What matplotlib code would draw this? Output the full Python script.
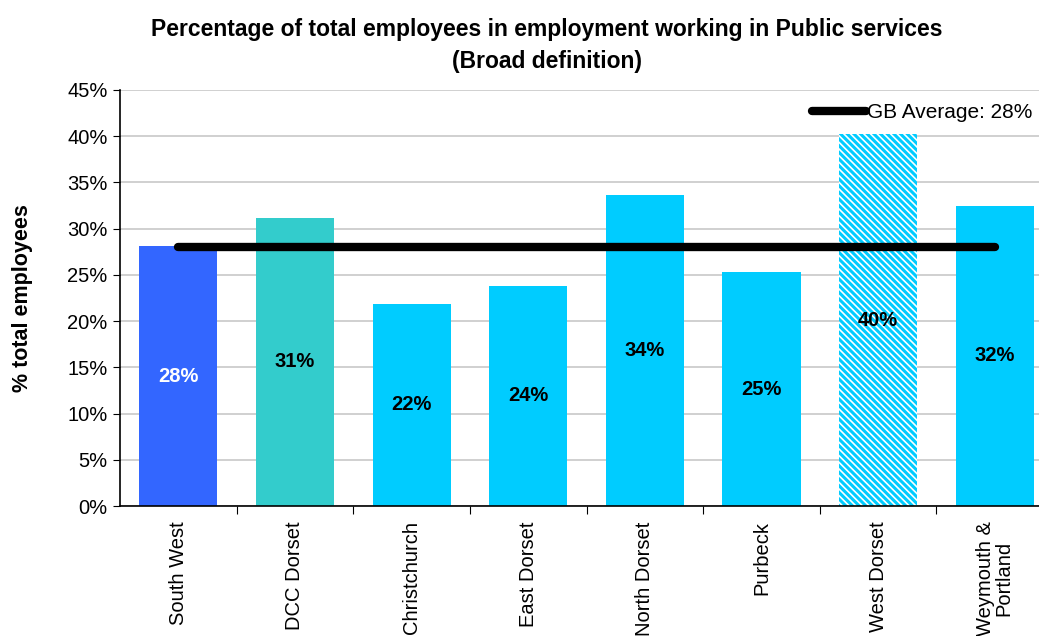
import numpy as np
import matplotlib.pyplot as plt
from matplotlib.lines import Line2D

plt.rcParams['font.family'] = ['Liberation Sans', 'DejaVu Sans']
plt.rcParams['hatch.linewidth'] = 2.2

areas = ['South West', 'DCC Dorset', 'Christchurch', 'East Dorset',
         'North Dorset', 'Purbeck', 'West Dorset', 'Weymouth &\nPortland']
share = [28.1, 31.2, 21.9, 23.8, 33.6, 25.3, 40.2, 32.5]
gb_average = 28.0

colours = ['#3366FF', '#33CCCC', '#00CCFF', '#00CCFF',
           '#00CCFF', '#00CCFF', '#00CCFF', '#00CCFF']

fig = plt.figure(figsize = (10.39, 6.36), dpi = 100)
ax = fig.add_axes([0.1155, 0.2044, 0.898, 0.6541])

x = np.arange(len(areas))
bars = ax.bar(x, share, width = 0.67, color = colours, zorder = 2)

# West Dorset drawn as a striped bar
wd = bars[6]
wd.set_facecolor('white')
wd.set_edgecolor('#00CCFF')
wd.set_hatch('\\\\\\\\\\')
wd.set_linewidth(0)

for i, (b, v) in enumerate(zip(bars, share)):
    ax.text(b.get_x() + b.get_width() / 2, v / 2, '{:.0f}%'.format(v),
            ha = 'center', va = 'center', fontsize = 14.5, fontweight = 'bold',
            color = 'white' if i == 0 else 'black', zorder = 4)

ax.plot([x[0], x[-1]], [gb_average, gb_average], color = 'black', lw = 6,
        solid_capstyle = 'round', zorder = 3)

handle = Line2D([], [], color = 'black', lw = 6, solid_capstyle = 'round')
ax.legend([handle], ['GB Average: {:.0f}%'.format(gb_average)],
          loc = 'center left', bbox_to_anchor = (812 / 1039, 1 - 113 / 636),
          bbox_transform = fig.transFigure, frameon = False, fontsize = 15,
          handlelength = 2.6, handletextpad = 0.05, borderpad = 0,
          borderaxespad = 0)

ax.set_xlim(-0.5, len(areas) - 0.5)
ax.set_ylim(0, 45)
ax.set_yticks(np.arange(0, 46, 5))
ax.set_yticklabels(['{}%'.format(t) for t in range(0, 46, 5)], fontsize = 14.5)
ax.yaxis.grid(True, color = '#C8C8C8', lw = 1.2, zorder = 0)
ax.set_axisbelow(True)

ax.set_xticks(x + 0.5)
ax.set_xticklabels([])
ax.set_xticks(x, minor = True)
ax.set_xticklabels(areas, minor = True, rotation = 90, fontsize = 14.5,
                   va = 'top', ha = 'center', linespacing = 0.95)
ax.tick_params(axis = 'x', which = 'minor', length = 0, pad = 11)
ax.tick_params(axis = 'x', which = 'major', length = 6, direction = 'out')
ax.tick_params(axis = 'y', length = 5, direction = 'out', pad = 4)

for s in ['top', 'right']:
    ax.spines[s].set_visible(False)
ax.spines['left'].set_linewidth(1.2)
ax.spines['bottom'].set_linewidth(1.2)

ax.set_ylabel('% total employees', fontsize = 15.5, fontweight = 'bold')
ax.yaxis.set_label_coords(-0.093, 0.5)
fig.suptitle('Percentage of total employees in employment working in Public services\n(Broad definition)',
             x = 547 / 1039, y = 0.972, fontsize = 16.5, fontweight = 'bold', linespacing = 1.5)

fig.savefig('out.png', dpi = 100)
